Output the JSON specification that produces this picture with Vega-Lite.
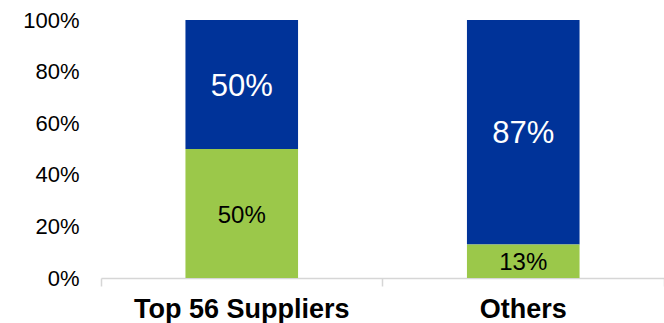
{
  "$schema": "https://vega.github.io/schema/vega-lite/v6.json",
  "width": 563,
  "height": 258,
  "autosize": {"type": "none"},
  "padding": {"left": 101, "top": 20, "right": 0, "bottom": 45},
  "background": "white",
  "config": {"view": {"stroke": null}},
  "data": {
    "values": [
      {"category": "Top 56 Suppliers", "segment": "Top", "value": 0.5, "order": 2},
      {"category": "Top 56 Suppliers", "segment": "Bottom", "value": 0.5, "order": 1},
      {"category": "Others", "segment": "Top", "value": 0.87, "order": 2},
      {"category": "Others", "segment": "Bottom", "value": 0.13, "order": 1}
    ]
  },
  "encoding": {
    "x": {
      "field": "category",
      "type": "nominal",
      "sort": ["Top 56 Suppliers", "Others"],
      "scale": {"paddingInner": 0, "paddingOuter": 0},
      "axis": {
        "title": null,
        "labelAngle": 0,
        "labelLimit": 0,
        "labelFont": "Liberation Sans",
        "labelFontSize": 27,
        "labelFontWeight": "bold",
        "labelColor": "black",
        "labelPadding": 10,
        "domainColor": "#d6d6d6",
        "domainWidth": 1.5,
        "tickColor": "#d6d6d6",
        "tickWidth": 1.5,
        "tickSize": 8,
        "bandPosition": 1,
        "tickExtra": true
      }
    },
    "y": {
      "field": "value",
      "type": "quantitative",
      "stack": "zero",
      "scale": {"domain": [0, 1]},
      "axis": {
        "title": null,
        "format": ".0%",
        "values": [0, 0.2, 0.4, 0.6, 0.8, 1],
        "domain": false,
        "ticks": false,
        "tickSize": 0,
        "grid": false,
        "labelFont": "Liberation Sans",
        "labelFontSize": 22,
        "labelColor": "black",
        "labelPadding": 22
      }
    },
    "order": {"field": "order", "type": "quantitative"}
  },
  "layer": [
    {
      "mark": {"type": "bar", "width": {"band": 0.4}},
      "encoding": {
        "color": {
          "field": "segment",
          "type": "nominal",
          "scale": {"domain": ["Bottom", "Top"], "range": ["#9BC84A", "#003399"]},
          "legend": null
        }
      }
    },
    {
      "mark": {"type": "text", "font": "Liberation Sans", "baseline": "middle", "align": "center", "dy": 2},
      "encoding": {
        "y": {"field": "value", "type": "quantitative", "stack": "zero", "bandPosition": 0.5},
        "text": {"field": "value", "type": "quantitative", "format": ".0%"},
        "color": {"condition": {"test": "datum.segment === 'Top'", "value": "white"}, "value": "black"},
        "size": {"condition": {"test": "datum.segment === 'Top'", "value": 31}, "value": 24}
      }
    }
  ]
}
